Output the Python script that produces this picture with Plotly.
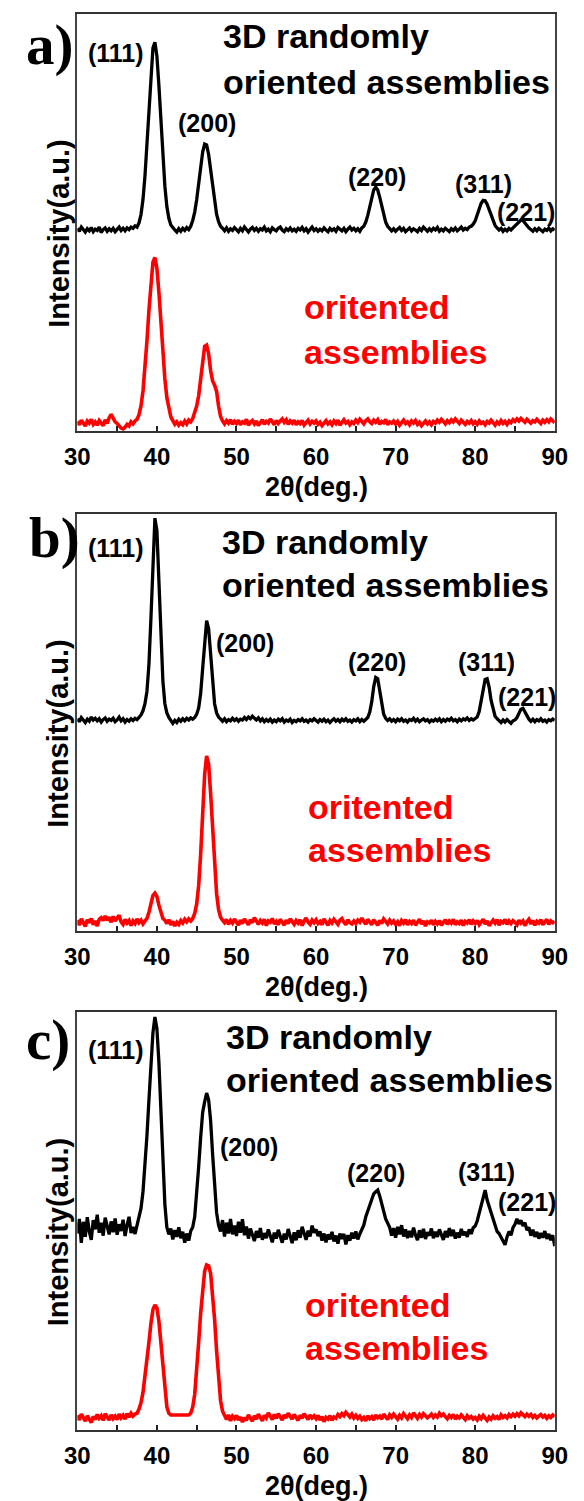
import plotly.graph_objects as go

# 2-theta sampling grid (deg), 30 -> 90 in 0.25 deg steps
two_theta = [round(30 + 0.25 * i, 2) for i in range(241)]

# ---------------- panel a ----------------
a_random = [
    48.6, 47.9, 48.9, 48.3, 47.7, 48.5, 48.0, 48.8, 47.8, 48.4, 48.1, 48.9, 47.6, 48.3, 48.7, 47.9, 48.5, 48.0, 48.6, 47.8,
    48.4, 48.9, 48.1, 48.6, 48.0, 48.7, 48.3, 48.9, 48.6, 49.2, 48.9, 49.9, 51.9, 55.5, 61.2, 68.9, 77.7, 86.1, 91.8, 93.2,
    89.9, 82.9, 74.1, 65.6, 58.7, 53.8, 51.0, 49.4, 48.7, 48.2, 47.7, 48.5, 47.9, 48.6, 48.1, 48.8, 48.3, 49.1, 50.5, 52.5,
    55.5, 59.3, 63.4, 66.9, 68.8, 68.6, 66.3, 62.6, 58.5, 54.8, 52.0, 50.2, 49.1, 48.6, 48.0, 48.7, 47.9, 48.5, 48.1, 48.8,
    48.2, 47.8, 48.6, 48.0, 48.9, 48.3, 47.7, 48.4, 48.8, 48.1, 48.6, 47.9, 48.5, 48.2, 48.9, 48.0, 48.4, 47.8, 48.7, 48.3,
    48.0, 48.6, 48.9, 48.2, 47.8, 48.5, 48.1, 48.7, 48.0, 48.4, 47.9, 48.6, 48.2, 48.8, 48.0, 48.5, 47.7, 48.3, 48.9, 48.1,
    48.5, 47.9, 48.4, 48.0, 48.7, 48.2, 47.8, 48.6, 48.1, 48.5, 47.9, 48.8, 48.3, 48.0, 48.6, 47.8, 48.4, 48.9, 48.2, 48.6,
    48.0, 48.5, 47.9, 48.7, 49.1, 50.1, 51.7, 53.8, 56.1, 57.8, 58.5, 57.8, 56.1, 53.8, 51.7, 50.1, 49.1, 48.6, 48.0, 48.5,
    47.9, 48.4, 48.8, 48.1, 48.6, 47.8, 48.3, 48.7, 48.0, 48.5, 48.2, 47.8, 48.6, 48.1, 48.9, 48.3, 47.9, 48.5, 48.0, 48.6,
    48.2, 48.8, 47.9, 48.4, 48.0, 48.6, 48.3, 47.8, 48.5, 48.1, 48.7, 48.0, 48.4, 48.9, 48.2, 48.6, 48.3, 48.9, 49.1, 49.6,
    50.4, 51.8, 53.3, 54.6, 55.3, 55.2, 54.4, 53.0, 51.5, 50.2, 49.3, 48.7, 48.2, 48.6, 47.9, 48.4, 48.0, 48.6, 48.2, 48.7,
    49.2, 49.8, 50.3, 50.6, 50.5, 50.0, 49.3, 48.7, 48.3, 47.9, 48.5, 48.0, 48.6, 48.2, 47.8, 48.4, 48.1, 48.7, 48.0, 48.5,
    48.2,
]
a_oriented = [
    2.3, 1.5, 2.6, 1.8, 1.2, 2.4, 1.9, 2.8, 1.6, 2.2, 1.4, 2.5, 2.0, 1.3, 2.7, 1.8, 3.2, 4.0, 3.1, 2.2,
    1.8, 1.1, 0.7, 0.5, 0.9, 1.6, 1.2, 2.2, 1.7, 2.4, 2.8, 3.9, 6.0, 9.6, 14.8, 21.6, 29.0, 35.9, 40.5, 41.6,
    39.0, 33.3, 26.1, 18.7, 12.5, 8.0, 5.1, 3.4, 2.5, 1.6, 2.2, 1.4, 2.0, 1.5, 2.4, 1.7, 2.6, 2.2, 3.0, 4.5,
    6.0, 8.5, 12.5, 17.0, 20.3, 20.6, 18.5, 14.5, 12.0, 11.0, 9.5, 6.0, 3.5, 2.4, 1.7, 2.5, 1.9, 2.7, 1.6, 2.3,
    1.8, 2.6, 1.5, 2.2, 1.9, 2.8, 1.4, 2.1, 2.5, 1.7, 2.4, 1.3, 2.0, 2.7, 1.6, 2.3, 1.9, 2.9, 2.2, 1.5,
    2.5, 1.8, 2.4, 2.9, 2.1, 2.7, 1.6, 2.4, 1.9, 2.6, 1.5, 2.2, 1.8, 2.5, 1.4, 2.1, 2.6, 1.7, 2.3, 1.9,
    2.4, 1.6, 2.1, 1.3, 2.0, 2.5, 1.7, 2.2, 1.5, 2.4, 1.8, 2.6, 1.4, 2.1, 2.7, 1.9, 2.3, 1.5, 2.2, 1.8,
    2.6, 2.0, 2.8, 2.3, 1.7, 2.5, 2.9, 2.2, 1.8, 2.6, 2.1, 2.7, 1.6, 2.3, 2.0, 2.8, 1.5, 2.2, 1.9, 2.4,
    1.7, 2.3, 1.4, 2.0, 2.6, 1.8, 2.2, 1.5, 2.4, 1.9, 2.5, 1.6, 2.1, 1.3, 2.0, 2.4, 1.7, 2.2, 1.5, 2.3,
    1.9, 2.6, 2.1, 2.8, 2.3, 1.7, 2.5, 2.0, 2.7, 2.2, 2.9, 2.4, 1.8, 2.6, 2.1, 1.6, 2.3, 1.9, 2.5, 1.7,
    2.2, 1.6, 2.4, 1.8, 2.1, 1.5, 2.3, 1.9, 2.6, 2.0, 1.4, 2.2, 1.7, 2.5, 1.8, 2.3, 1.6, 2.4, 2.0, 2.7,
    2.3, 2.9, 2.4, 3.0, 2.6, 2.1, 2.8, 2.4, 1.9, 2.5, 2.2, 2.8, 2.3, 1.8, 2.6, 2.1, 2.7, 2.2, 2.9, 2.4,
    2.0,
]

# ---------------- panel b ----------------
b_random = [
    50.9, 50.2, 51.2, 50.5, 50.0, 50.8, 50.3, 51.3, 50.6, 51.0, 50.4, 50.9, 50.1, 50.7, 51.1, 50.3, 50.8, 50.5, 51.0, 50.2,
    50.6, 51.3, 50.4, 50.9, 50.1, 50.7, 50.3, 50.9, 50.5, 51.0, 50.7, 51.2, 51.8, 52.8, 54.5, 57.5, 64.0, 75.0, 89.0, 99.0,
    96.0, 85.0, 71.0, 60.0, 54.5, 52.3, 51.2, 50.4, 49.8, 50.5, 50.0, 50.8, 50.3, 50.9, 50.4, 51.0, 50.6, 51.1, 50.8, 51.2,
    52.0, 53.5, 57.0, 63.0, 70.0, 74.4, 72.5, 66.0, 59.0, 54.5, 52.3, 51.3, 50.8, 50.3, 50.9, 50.2, 50.7, 50.4, 51.0, 50.5,
    50.9, 50.3, 50.8, 50.6, 51.2, 50.7, 51.3, 50.9, 51.5, 51.0, 50.6, 51.1, 50.4, 50.9, 50.2, 50.7, 50.3, 50.8, 50.1, 50.6,
    50.2, 50.8, 50.4, 50.9, 50.1, 50.6, 50.3, 50.8, 50.0, 50.5, 50.2, 50.7, 50.4, 50.9, 50.3, 50.6, 50.1, 50.7, 50.4, 50.9,
    50.5, 50.1, 50.7, 50.3, 50.8, 50.2, 50.6, 50.0, 50.5, 50.9, 50.3, 50.7, 50.2, 50.8, 50.4, 50.9, 50.3, 50.6, 50.1, 50.7,
    50.4, 50.9, 50.2, 50.7, 50.3, 50.8, 51.2, 52.5, 55.0, 58.6, 60.8, 60.5, 57.6, 54.2, 52.0, 51.0, 50.5, 50.9, 50.3, 50.7,
    50.2, 50.8, 50.4, 50.9, 50.3, 50.6, 50.1, 50.7, 50.5, 51.0, 50.3, 50.8, 50.2, 50.6, 50.9, 50.4, 50.7, 50.1, 50.6, 50.3,
    50.8, 50.4, 50.9, 50.2, 50.7, 50.3, 50.8, 50.5, 51.0, 50.4, 50.7, 50.2, 50.8, 50.4, 50.9, 50.6, 51.1, 50.5, 50.9, 50.6,
    50.9, 51.3, 52.6, 55.0, 58.2, 60.3, 60.5, 58.5, 55.3, 52.9, 51.5, 50.9, 50.3, 50.0, 50.6, 50.1, 50.7, 50.2, 49.8, 50.4,
    50.6, 51.2, 52.2, 53.2, 53.4, 52.6, 51.5, 50.8, 50.3, 50.8, 50.2, 50.7, 50.4, 50.9, 50.3, 50.6, 50.1, 50.7, 50.4, 50.8,
    50.5,
]
b_oriented = [
    2.6, 1.4, 2.9, 1.8, 1.1, 2.7, 2.0, 3.0, 1.5, 2.4, 1.2, 2.8, 3.2, 2.5, 3.6, 2.6, 3.3, 2.1, 3.5, 2.4,
    3.1, 3.8, 2.2, 1.6, 2.8, 1.9, 2.5, 1.3, 2.4, 1.8, 2.9, 2.0, 2.6, 1.7, 2.4, 3.0, 4.5, 6.5, 8.5, 9.1,
    8.3, 6.2, 4.2, 3.0, 2.6, 1.8, 2.7, 1.5, 2.3, 1.2, 2.1, 1.6, 2.5, 1.9, 2.8, 2.2, 2.9, 2.4, 3.0, 4.2,
    6.5, 11.0, 18.5, 28.0, 37.5, 42.0, 40.0, 33.0, 24.0, 15.5, 9.0, 5.2, 3.3, 2.6, 2.0, 2.8, 1.6, 2.5, 1.9, 2.9,
    2.1, 1.4, 2.6, 1.8, 2.9, 2.2, 1.5, 2.7, 2.0, 3.2, 2.3, 1.6, 2.5, 1.9, 2.8, 1.3, 2.4, 2.1, 3.0, 1.7,
    2.3, 1.5, 2.8, 2.0, 1.4, 2.6, 1.8, 2.9, 2.2, 1.6, 2.5, 1.9, 2.7, 1.3, 2.4, 3.1, 2.1, 1.6, 2.6, 2.0,
    2.7, 1.8, 2.3, 1.5, 2.9, 2.0, 1.4, 2.5, 1.9, 2.8, 2.2, 1.6, 2.6, 3.0, 2.1, 1.5, 2.7, 2.0, 1.7, 2.4,
    1.8, 2.6, 2.1, 3.1, 2.3, 1.6, 2.8, 2.2, 1.5, 2.7, 2.0, 1.4, 2.5, 1.8, 2.9, 2.3, 1.7, 2.6, 1.9, 2.4,
    1.6, 2.2, 1.3, 2.5, 1.9, 2.7, 1.5, 2.3, 1.8, 2.6, 1.4, 2.1, 2.8, 1.7, 2.4, 1.2, 2.2, 1.9, 2.6, 1.5,
    2.3, 1.7, 2.5, 1.4, 2.1, 2.7, 1.6, 2.4, 1.9, 2.8, 1.5, 2.2, 1.8, 2.6, 1.3, 2.3, 1.9, 2.7, 1.6, 2.4,
    1.8, 2.5, 1.5, 2.2, 2.8, 1.7, 2.4, 1.3, 2.1, 2.6, 1.9, 2.7, 1.4, 2.3, 2.0, 2.8, 1.6, 2.4, 1.8, 2.5,
    2.1, 1.5, 2.6, 1.9, 2.4, 1.3, 2.2, 2.8, 1.7, 2.5, 1.4, 2.3, 1.9, 2.7, 1.5, 2.2, 2.8, 1.6, 2.4, 2.0,
    2.3,
]

# ---------------- panel c ----------------
c_random = [
    47.0, 50.5, 44.8, 49.8, 46.2, 50.9, 47.5, 45.5, 50.2, 48.0, 51.5, 47.2, 49.6, 46.5, 50.8, 48.4, 46.8, 49.9, 47.3, 50.6,
    46.7, 49.2, 47.6, 50.3, 46.4, 49.0, 51.0, 47.1, 48.6, 46.9, 49.0, 50.5, 53.0, 57.0, 63.0, 70.5, 79.0, 88.0, 95.0, 98.8,
    96.0, 88.0, 76.0, 64.0, 54.0, 48.5, 46.8, 48.2, 45.6, 47.8, 46.2, 48.5, 45.9, 47.4, 44.8, 47.0, 45.3, 47.6, 48.5, 51.0,
    56.0, 63.0, 70.0, 76.0, 78.5, 80.6, 79.0, 74.0, 66.0, 58.0, 52.0, 49.0, 47.5, 50.2, 46.3, 49.6, 47.0, 50.5, 46.8, 48.9,
    46.4, 49.8, 47.2, 50.4, 46.6, 48.7, 45.8, 48.2, 46.9, 45.2, 47.6, 46.0, 48.3, 45.5, 47.1, 45.9, 48.0, 46.3, 44.9, 47.2,
    45.8, 47.9, 46.4, 44.8, 47.0, 45.6, 48.1, 46.2, 44.7, 47.3, 45.4, 47.8, 46.0, 48.6, 47.1, 45.5, 47.7, 46.3, 48.9, 47.2,
    48.0, 46.4, 47.5, 45.3, 47.0, 44.9, 46.8, 45.6, 47.4, 45.1, 46.5, 44.6, 47.0, 45.7, 46.9, 44.4, 46.6, 45.3, 47.2, 45.8,
    47.5, 45.6, 46.9, 48.2, 49.0, 51.0, 52.5, 54.0, 55.5, 56.5, 57.0, 57.4, 56.0, 54.0, 52.0, 50.5, 49.5, 48.5, 46.5, 48.3,
    46.0, 48.6, 46.8, 49.0, 46.3, 48.0, 45.9, 47.6, 46.1, 48.4, 46.6, 45.4, 47.8, 46.0, 48.1, 45.7, 47.3, 46.5, 48.2, 45.9,
    47.4, 46.2, 48.0, 46.7, 45.5, 47.6, 46.1, 48.3, 46.4, 47.9, 45.8, 47.2, 46.0, 48.1, 46.6, 47.4, 46.2, 48.0, 46.9, 48.4,
    48.8, 50.0, 52.0, 54.0, 55.5, 57.4, 55.0, 53.5, 51.5, 50.0, 48.5, 47.5, 47.0, 46.0, 45.0, 44.3, 46.2, 47.5, 46.6, 48.4,
    49.2, 50.5, 49.3, 50.2, 48.8, 49.6, 47.8, 48.5, 46.5, 47.9, 46.2, 47.4, 45.8, 47.1, 46.0, 47.6, 45.7, 46.9, 45.4, 46.6,
    44.0,
]
c_oriented = [
    3.5, 2.4, 3.8, 2.9, 2.1, 3.4, 2.6, 1.8, 3.2, 2.5, 3.7, 2.8, 3.4, 2.3, 3.9, 3.0, 2.4, 3.6, 2.7, 3.3,
    2.5, 3.8, 2.9, 3.5, 2.6, 3.9, 3.1, 4.0, 3.3, 3.8, 4.0, 5.0, 6.5, 9.0, 12.5, 16.5, 21.0, 25.5, 28.8, 29.9,
    29.2, 26.0, 21.0, 15.5, 9.5, 5.5, 4.0, 3.6, 3.6, 3.6, 3.6, 3.6, 3.6, 3.6, 3.6, 3.6, 3.6, 4.0, 5.5, 8.5,
    14.0, 21.0, 28.0, 34.0, 38.0, 39.5, 39.3, 37.5, 33.0, 26.5, 19.0, 12.0, 7.0, 4.5, 3.4, 2.5, 3.6, 2.2, 3.3, 2.7,
    3.5, 2.4, 3.1, 1.9, 3.0, 2.3, 3.6, 2.8, 2.1, 3.4, 2.6, 3.8, 3.0, 2.2, 3.5, 2.9, 4.1, 3.2, 2.5, 3.7,
    2.8, 3.9, 3.1, 2.4, 3.6, 2.9, 4.0, 3.3, 2.6, 3.7, 3.0, 2.3, 3.5, 2.8, 3.9, 3.2, 2.5, 3.6, 2.9, 3.4,
    2.7, 3.5, 2.4, 3.2, 2.0, 3.0, 2.6, 3.4, 2.3, 3.1, 2.8, 3.7, 3.2, 3.9, 3.4, 4.2, 3.6, 3.1, 3.8, 2.9,
    3.5, 2.8, 3.3, 2.5, 3.0, 2.2, 3.4, 2.7, 3.2, 2.4, 3.6, 2.9, 3.3, 2.6, 3.8, 3.1, 2.5, 3.6, 3.0, 3.8,
    3.2, 2.6, 3.5, 2.9, 3.9, 3.3, 2.7, 3.6, 3.0, 4.1, 3.4, 2.8, 3.7, 3.1, 3.9, 3.5, 2.9, 3.3, 3.8, 3.0,
    3.6, 3.1, 4.0, 3.4, 3.8, 3.2, 2.7, 3.5, 3.0, 3.7, 2.6, 3.3, 2.9, 3.6, 3.1, 2.5, 3.4, 2.8, 3.2, 2.6,
    3.0, 2.4, 3.3, 2.7, 3.5, 2.9, 2.3, 3.1, 2.6, 3.4, 2.8, 3.2, 2.5, 3.6, 3.0, 3.4, 2.9, 3.7, 3.2, 3.8,
    3.3, 3.9, 3.4, 4.1, 3.6, 3.2, 3.8, 3.3, 3.7, 3.0, 3.5, 2.9, 3.3, 3.7, 3.1, 3.5, 2.8, 3.4, 3.0, 3.6,
    3.2,
]

x_tick_vals = [30, 40, 50, 60, 70, 80, 90]
x_tick_text = ["30", "40", "50", "60", "70", "80", "90"]
x_minor_vals = [35, 45, 55, 65, 75, 85]
peak_labels = ["(111)", "(200)", "(220)", "(311)", "(221)"]
panel_letters = ["a)", "b)", "c)"]

# the page body has an 8px default margin, so the figure is placed at (8, 8)
OFF = 8
W, H = 584 - OFF, 1501 - OFF
SANS = "Liberation Sans"
SERIF = "Liberation Serif"

# plot-box geometry in window pixels (left, right, top, bottom)
box_l, box_r = 67, 567
boxes = [(14, 431), (514, 931), (1012, 1430)]

def px(x):
    return (x - OFF) / W

def py(y):
    return 1 - (y - OFF) / H

fig = go.Figure()
series = [(a_random, a_oriented), (b_random, b_oriented), (c_random, c_oriented)]
for k, (rnd, ori) in enumerate(series):
    xa = "x" if k == 0 else f"x{k+1}"
    ya = "y" if k == 0 else f"y{k+1}"
    fig.add_trace(go.Scatter(x=two_theta, y=ori, mode="lines", xaxis=xa, yaxis=ya,
                             line=dict(color="#ff0000", width=3.6), showlegend=False,
                             hoverinfo="skip"))
    fig.add_trace(go.Scatter(x=two_theta, y=rnd, mode="lines", xaxis=xa, yaxis=ya,
                             line=dict(color="black", width=3.3), showlegend=False,
                             hoverinfo="skip"))

layout = dict(width=W, height=H, margin=dict(l=0, r=0, t=0, b=0),
              paper_bgcolor="white", plot_bgcolor="white")
for k, (top, bot) in enumerate(boxes):
    xname = "xaxis" if k == 0 else f"xaxis{k+1}"
    yname = "yaxis" if k == 0 else f"yaxis{k+1}"
    anchor_y = "y" if k == 0 else f"y{k+1}"
    anchor_x = "x" if k == 0 else f"x{k+1}"
    layout[xname] = dict(domain=[px(box_l), px(box_r)], anchor=anchor_y, range=[30, 90],
                         tickvals=x_tick_vals, ticktext=x_tick_text, ticks="inside",
                         ticklen=5, tickwidth=1.5, tickcolor="#222",
                         minor=dict(tickvals=x_minor_vals, ticks="inside", ticklen=5,
                                    tickwidth=1.5, tickcolor="#222"),
                         showline=True, mirror=True, linecolor="#333", linewidth=1.8,
                         showgrid=False, zeroline=False, ticklabelstandoff=3,
                         tickfont=dict(family=SANS, size=24, color="black", weight="bold"))
    layout[yname] = dict(domain=[py(bot), py(top)], anchor=anchor_x, range=[0, 100],
                         showticklabels=False, ticks="", showline=True, mirror=True,
                         linecolor="#444", linewidth=1.6, showgrid=False, zeroline=False)
fig.update_layout(**layout)

ann = []

def text(x, y, s, size, color="black", anchor="center", family=SANS, angle=0):
    ann.append(dict(xref="paper", yref="paper", x=px(x), y=py(y), text=s, showarrow=False,
                    xanchor=anchor, yanchor="middle", textangle=angle, borderpad=0,
                    font=dict(family=family, size=size, color=color, weight="bold")))

# panel letters
letter_pos = [(12, 45), (15, 538), (12, 1040)]
for s, (x, y) in zip(panel_letters, letter_pos):
    text(x, y, s, 57, anchor="left", family=SERIF)

# peak labels
peak_pos = [
    [(107, 53), (203, 123), (381, 177), (492, 184), (537, 212)],
    [(107, 548), (243, 643), (381, 662), (496, 662), (538, 697)],
    [(107, 1050), (247, 1147), (380, 1173), (496, 1172), (538, 1202)],
]
for plist in peak_pos:
    for s, (x, y) in zip(peak_labels, plist):
        text(x, y, s, 25)

# sample descriptions
desc_pos = [((219, 36), (219, 82), (303, 307), (303, 352)),
            ((217, 542), (217, 585), (308, 807), (308, 850)),
            ((222, 1037), (222, 1080), (304, 1305), (304, 1348))]
for (l1, l2, r1, r2) in desc_pos:
    text(l1[0], l1[1], "3D randomly", 34, anchor="left")
    text(l2[0], l2[1], "oriented assemblies", 34, anchor="left")
    text(r1[0], r1[1], "oritented", 34, color="#ff0000", anchor="left")
    text(r2[0], r2[1], "assemblies", 34, color="#ff0000", anchor="left")

# axis titles
for (top, bot) in boxes:
    text(47, (top + bot) / 2 + 11, "Intensity(a.u.)", 29, angle=-90)
    text(317, bot + 56, "2θ(deg.)", 27)

fig.update_layout(annotations=ann)
fig.write_html("out.html")
